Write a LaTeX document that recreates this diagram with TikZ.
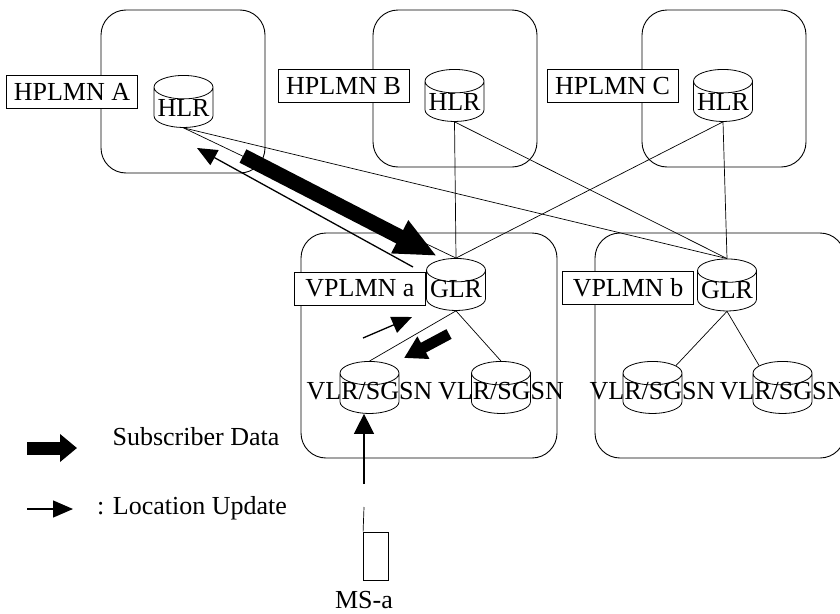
\documentclass[tikz,border=0pt]{standalone}
\usepackage{fontspec}
\setmainfont{Liberation Serif}
\usetikzlibrary{shapes.geometric,arrows.meta}

\begin{document}
\begin{tikzpicture}[x=1pt,y=-1pt,font=\fontsize{26}{31}\selectfont,
  net/.style={draw,line width=0.9pt,rounded corners=25pt},
  tag/.style={draw,fill=white,line width=0.8pt,inner sep=0pt,minimum width=131pt,minimum height=33pt},
  db/.style={cylinder,shape border rotate=90,aspect=0.45,draw,fill=white,line width=0.8pt,inner sep=0pt,
    text height=12pt,text depth=0pt,minimum width=59pt,minimum height=52pt,node contents={\phantom{HLR}}},
  link/.style={line width=0.7pt},
  data/.style={line width=15pt,-{Triangle[length=42pt,width=34pt]}},
  upd/.style={line width=1.3pt,-{Triangle[length=20pt,width=17pt]}}]
\useasboundingbox (0,0) rectangle (840,613);
\draw[net] (101,10) rectangle (265,173);
\draw[net] (373,10) rectangle (537,167);
\draw[net] (642,10) rectangle (806,167);
\draw[net] (301,233) rectangle (557,458);
\draw[net] (595,233) rectangle (845,458);
\node[tag] (pa) at (72,92) {HPLMN A};
\node[tag] (pb) at (343.5,86) {HPLMN B};
\node[tag] (pc) at (612.5,86) {HPLMN C};
\node[tag] (qa) at (360,288.5) {VPLMN a};
\node[tag] (qb) at (628,288) {VPLMN b};
\node (ha) at (183.5,107.5) [db,label=center:HLR];
\node (hb) at (454.5,101.5) [db,label=center:HLR];
\node (hc) at (723,101.5) [db,label=center:HLR];
\node (ga) at (456,290.5) [db,label={[yshift=1pt]center:GLR}];
\node (gb) at (727,291) [db,label={[yshift=1pt]center:GLR}];
\node (va1) at (369.5,393.5) [db,label={[yshift=2pt]center:VLR/SGSN}];
\node (va2) at (501,393.5) [db,label={[yshift=2pt]center:VLR/SGSN}];
\node (vb1) at (652.5,393.5) [db,label={[yshift=2pt]center:VLR/SGSN}];
\node (vb2) at (782.5,393.5) [db,label={[yshift=2pt]center:VLR/SGSN}];
\foreach \h in {ha,hb,hc}
  \foreach \g in {ga,gb}
    \draw[link] (\h.south) -- (\g.north);
\draw[link] (ga.south) -- (va1.north);
\draw[link] (ga.south) -- (va2.north);
\draw[link] (gb.south) -- (vb1.50);
\draw[link] (gb.south) -- (vb2.130);
\coordinate (sd1) at (243,156);
\coordinate (sd2) at (437,256);
\draw[data] (sd1) -- (sd2);
\coordinate (lu1) at (413,267);
\coordinate (lu2) at (197,148);
\draw[upd] (lu1) -- (lu2);
\coordinate (lu3) at (363,338);
\coordinate (lu4) at (412,317);
\draw[upd] (lu3) -- (lu4);
\coordinate (sd3) at (449,334);
\coordinate (sd4) at (404,358);
\draw[line width=11pt,-{Triangle[length=22pt,width=24pt]}] (sd3) -- (sd4);
\node[draw,line width=0.8pt,minimum width=25pt,minimum height=48pt,inner sep=0pt] (ms) at (376,556) {};
\coordinate (ant) at (364,507);
\draw[link] (ms.north west) -- (ant);
\node (msa) at (364,600) {MS-a};
\coordinate (ms1) at (364,484);
\draw[upd,-{Triangle[length=20pt,width=20pt]}] (ms1) -- (ms1 |- va1.south);
\coordinate (k1) at (27,448);
\coordinate (k2) at (77,448);
\draw[line width=13pt,-{Triangle[length=17pt,width=27pt]}] (k1) -- (k2);
\node (ksd) at (196,437) {Subscriber Data};
\coordinate (k3) at (27,509);
\coordinate (k4) at (73,509);
\draw[upd] (k3) -- (k4);
\node (klu) at (192,508) {: Location Update};
\end{tikzpicture}
\end{document}
